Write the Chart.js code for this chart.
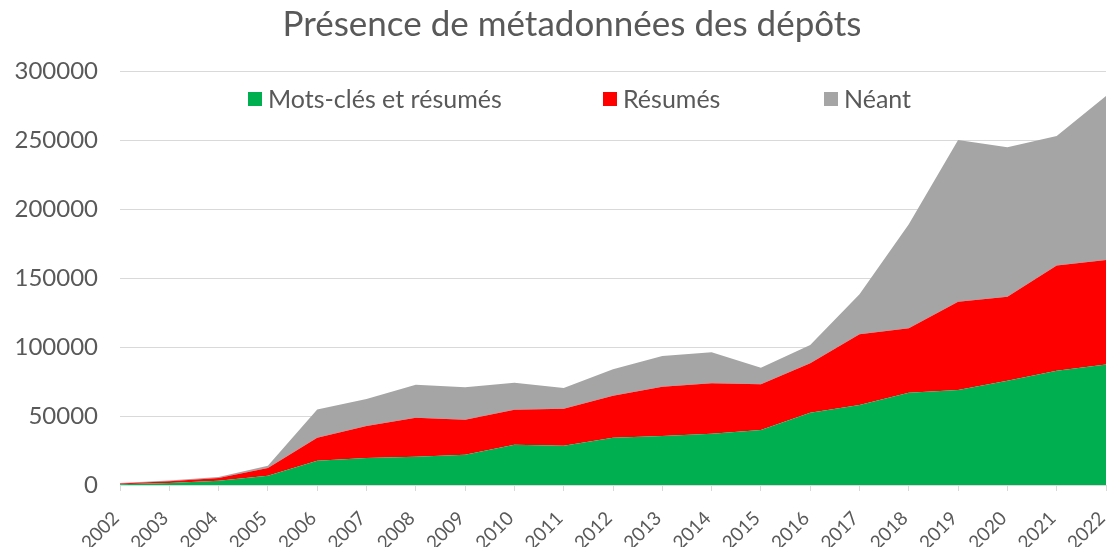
<!DOCTYPE html>
<html>
<head>
<meta charset="utf-8">
<script src="https://cdn.jsdelivr.net/npm/chart.js@4.4.1/dist/chart.umd.min.js"></script>
<style>
  body { margin: 0; background: #fff; }
  #wrap { width: 1114px; height: 547px; }
</style>
</head>
<body>
<div id="wrap"><canvas id="myChart" width="1114" height="547"></canvas></div>
<script>
// Années
const annees = ['2002', '2003', '2004', '2005', '2006', '2007', '2008', '2009', '2010', '2011',
  '2012', '2013', '2014', '2015', '2016', '2017', '2018', '2019', '2020', '2021', '2022'];

// Valeurs par catégorie (empilées)
const motsClesEtResumes = [500, 1500, 3000, 6700, 17600, 19600, 20500, 22000, 29200, 28400,
  34300, 35500, 37200, 39900, 52400, 58000, 66900, 68800, 75600, 82800, 87400];
const resumes = [500, 1300, 2000, 5600, 16700, 23200, 28300, 25300, 25400, 26800,
  30400, 35700, 36500, 33100, 35800, 51200, 46600, 64000, 60900, 76200, 75600];
const neant = [500, 400, 800, 1700, 20500, 19500, 23900, 23500, 19500, 15000,
  19100, 22300, 22500, 12000, 13200, 29000, 75500, 117200, 108200, 93900, 118900];

const yTicks = [0, 50000, 100000, 150000, 200000, 250000, 300000];

const TITRE = 'Présence de métadonnées des dépôts';
const FONT = 'Lato, "Liberation Sans", sans-serif';
const GRIS_TEXTE = '#595959';

// Titre et légende dessinés à la main, comme dans Excel (légende dans la zone du graphique)
const decorExcel = {
  id: 'decorExcel',
  afterDraw(chart) {
    const ctx = chart.ctx;
    const area = chart.chartArea;
    ctx.save();

    // titre
    ctx.font = '35px ' + FONT;
    ctx.fillStyle = GRIS_TEXTE;
    ctx.textAlign = 'center';
    ctx.textBaseline = 'middle';
    ctx.fillText(TITRE, 572, 25);

    // légende
    const offsets = [128, 483, 704]; // position de chaque carré depuis le bord gauche
    const y = area.top + 28;
    ctx.font = '25px ' + FONT;
    ctx.textAlign = 'left';
    chart.data.datasets.forEach((ds, i) => {
      const x = area.left + offsets[i];
      ctx.fillStyle = ds.backgroundColor;
      ctx.fillRect(x, y - 7, 14, 14);
      ctx.fillStyle = GRIS_TEXTE;
      ctx.fillText(ds.label, x + 20, y + 1);
    });
    ctx.restore();
  }
};

const ctx = document.getElementById('myChart').getContext('2d');
const myChart = new Chart(ctx, {
  type: 'line',
  data: {
    labels: annees,
    datasets: [{
      label: 'Mots-clés et résumés',
      data: motsClesEtResumes,
      backgroundColor: '#00b050',
      borderWidth: 0,
      pointRadius: 0,
      fill: 'origin'
    }, {
      label: 'Résumés',
      data: resumes,
      backgroundColor: '#ff0000',
      borderWidth: 0,
      pointRadius: 0,
      fill: '-1'
    }, {
      label: 'Néant',
      data: neant,
      backgroundColor: '#a5a5a5',
      borderWidth: 0,
      pointRadius: 0,
      fill: '-1'
    }]
  },
  options: {
    responsive: false,
    animation: false,
    layout: { padding: { left: 0, right: 8, top: 71, bottom: 0 } },
    plugins: {
      legend: { display: false },
      tooltip: { enabled: false },
      title: { display: false }
    },
    scales: {
      x: {
        offset: false,
        grid: { display: true, drawOnChartArea: false, drawTicks: true, tickLength: 6, color: '#d9d9d9' },
        border: { display: true, color: '#d9d9d9' },
        ticks: {
          color: GRIS_TEXTE,
          font: { family: FONT, size: 19 },
          minRotation: 45,
          maxRotation: 45,
          autoSkip: false,
          padding: 16,
          labelOffset: -4
        },
        afterFit(scale) {
          scale.height = 62;
          scale.paddingLeft = 0;
          scale.paddingRight = 0;
        }
      },
      y: {
        stacked: true,
        min: 0,
        max: 300000,
        grid: { color: '#d9d9d9', drawTicks: false },
        border: { display: false },
        afterBuildTicks(scale) { scale.ticks = yTicks.map(v => ({ value: v })); },
        ticks: {
          color: GRIS_TEXTE,
          font: { family: FONT, size: 24 },
          padding: 22,
          callback: (v) => String(v)
        },
        afterFit(scale) { scale.width = 120; }
      }
    }
  },
  plugins: [decorExcel]
});
</script>
</body>
</html>
